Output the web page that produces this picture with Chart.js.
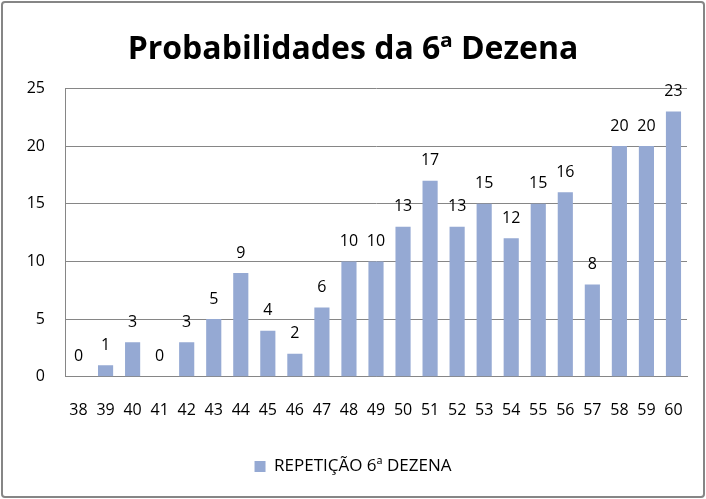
<!DOCTYPE html>
<html>
<head>
<meta charset="utf-8">
<script src="https://cdn.jsdelivr.net/npm/chart.js@4/dist/chart.umd.min.js"></script>
<style>
  html, body { margin: 0; padding: 0; background: #fff; }
  #wrap { width: 706px; height: 499px; }
</style>
</head>
<body>
<div id="wrap"><canvas id="chart" width="706" height="499"></canvas></div>
<script>
  /* ── Data ── */
  const dezenas = ['38','39','40','41','42','43','44','45','46','47','48','49','50','51','52','53','54','55','56','57','58','59','60'];
  const repeticoes = [0, 1, 3, 0, 3, 5, 9, 4, 2, 6, 10, 10, 13, 17, 13, 15, 12, 15, 16, 8, 20, 20, 23];
  const yTicks = [0, 5, 10, 15, 20, 25];

  const FONT = "'Open Sans', 'Liberation Sans', sans-serif";
  const BAR = '#95A9D3';
  const GRID = '#868686';

  /* ── Value labels above bars ── */
  const valueLabels = {
    id: 'valueLabels',
    afterDatasetsDraw(chart) {
      const ctx = chart.ctx;
      const meta = chart.getDatasetMeta(0);
      ctx.save();
      ctx.font = '16px ' + FONT;
      ctx.fillStyle = '#000';
      ctx.textAlign = 'center';
      ctx.textBaseline = 'bottom';
      meta.data.forEach((bar, i) => {
        ctx.fillText(String(repeticoes[i]), bar.x, bar.y - 12);
      });
      ctx.restore();
    }
  };

  /* ── Outer frame ── */
  const frame = {
    id: 'frame',
    afterDraw(chart) {
      const ctx = chart.ctx;
      ctx.save();
      ctx.strokeStyle = GRID;
      ctx.lineWidth = 2;
      ctx.beginPath();
      ctx.roundRect(2, 2, chart.width - 4, chart.height - 4, 3);
      ctx.stroke();
      ctx.restore();
    }
  };

  new Chart(document.getElementById('chart'), {
    type: 'bar',
    data: {
      labels: dezenas,
      datasets: [{
        label: 'REPETIÇÃO 6ª DEZENA',
        data: repeticoes,
        backgroundColor: BAR,
        borderWidth: 0,
        barPercentage: 0.56,
        categoryPercentage: 1,
      }],
    },
    options: {
      responsive: false,
      animation: false,
      layout: { padding: { left: 19, right: 19, top: 0, bottom: 14 } },
      plugins: {
        title: {
          display: true,
          text: 'Probabilidades da 6ª Dezena',
          color: '#000',
          font: { family: FONT, size: 32, weight: 'bold' },
          padding: { top: 31, bottom: 19 },
        },
        legend: {
          position: 'bottom',
          labels: {
            color: '#000',
            font: { family: FONT, size: 17 },
            boxWidth: 11,
            boxHeight: 11,
            padding: 12,
          },
        },
        tooltip: { enabled: false },
      },
      scales: {
        x: {
          grid: { display: false },
          border: { display: true, color: GRID },
          ticks: { color: '#000', font: { family: FONT, size: 16 }, maxRotation: 0, autoSkip: false, padding: 16 },
          afterFit: s => { s.height += 10; },
        },
        y: {
          min: 0,
          max: 25,
          afterBuildTicks: s => { s.ticks = yTicks.map(v => ({ value: v })); },
          afterFit: s => { s.width = 46; },
          grid: { color: GRID, drawTicks: false },
          border: { display: true, color: GRID },
          ticks: { color: '#000', font: { family: FONT, size: 16 }, padding: 20 },
        },
      },
    },
    plugins: [valueLabels, frame],
  });
</script>
</body>
</html>
